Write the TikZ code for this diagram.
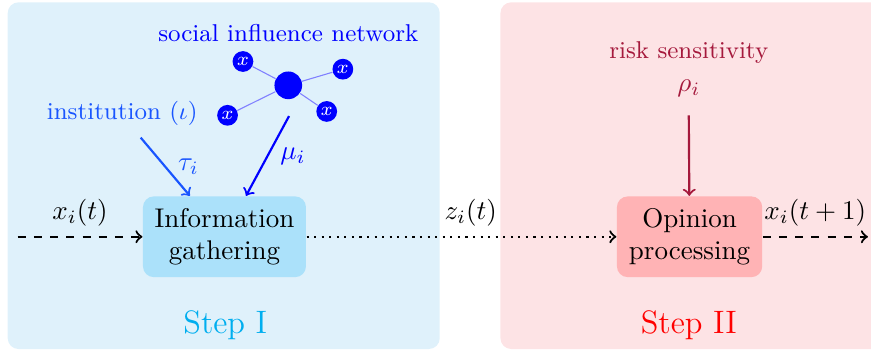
\documentclass[tikz,border=0pt]{standalone}
\usepackage{amsmath}
\usepackage{amssymb}
\usepackage{tikz}

\definecolor{bgone}{RGB}{223,241,251}
\definecolor{bgtwo}{RGB}{253,227,229}
\definecolor{boxone}{RGB}{171,225,250}
\definecolor{boxtwo}{RGB}{255,179,181}
\definecolor{stepone}{RGB}{0,174,239}
\definecolor{instcol}{RGB}{25,85,255}
\definecolor{riskcol}{RGB}{165,25,60}

\tikzset{
  panel/.style={rounded corners=4pt},
  procbox/.style={rounded corners=4pt, align=center, minimum height=1.05cm, inner sep=2pt},
  agent/.style={circle, fill=blue, text=white, inner sep=0pt, minimum size=0.27cm, font=\scriptsize},
  hub/.style={circle, fill=blue, inner sep=0pt, minimum size=0.36cm},
  flow/.style={thick, ->}
}

\begin{document}
\begin{tikzpicture}
\useasboundingbox (0,0) rectangle (11.33,4.62);
% the two steps
\fill [bgone, panel] (0.10,0.08) rectangle (5.72,4.59);
\fill [bgtwo, panel] (6.51,0.08) rectangle (11.60,4.59);
\node [stepone, font=\large] (stepI) at (2.93,0.39) {Step I};
\node [red, font=\large] (stepII) at (8.96,0.39) {Step II};

\node [procbox, fill=boxone, minimum width=2.12cm] (info) at (2.92,1.54) {Information\\gathering};
\node [procbox, fill=boxtwo, minimum width=1.89cm] (opin) at (8.97,1.54) {Opinion\\processing};

% opinion flow
\coordinate (xin) at (0.23,1.54);
\coordinate (xout) at (11.29,1.54);
\draw [flow, dashed] (xin) -- node[midway, above] {$x_i(t)$} (info);
\draw [flow, dotted] (info) -- node[pos=0.53, above] {$z_i(t)$} (opin);
\draw [flow, dashed] (opin) -- node[midway, above] {$x_i(t+1)$} (xout);

% network
\node [blue, font=\small] (netlabel) at (3.75,4.19) {social influence network};
\node [hub] (me) at (3.75,3.51) {};
\node [agent] (nb1) at (3.16,3.82) {$x$};
\node [agent] (nb2) at (4.46,3.72) {$x$};
\node [agent] (nb3) at (2.96,3.12) {$x$};
\node [agent] (nb4) at (4.25,3.17) {$x$};
\foreach \n in {nb1,nb2,nb3,nb4}
  \draw [blue!50] (me) -- (\n);

\node [instcol, font=\small] (inst) at (1.59,3.15) {institution ($\iota$)};
\coordinate (taustart) at (1.83,2.83);
\draw [instcol, thick, ->] (taustart) -- node[midway, right=1pt] {$\tau_i$} ([xshift=-0.45cm]info.north);
\coordinate (mustart) at (3.76,3.11);
\draw [blue, thick, ->] (mustart) -- node[midway, right=1pt] {$\mu_i$} ([xshift=0.28cm]info.north);

% risk
\node [riskcol, font=\small] (risk) at (8.96,3.94) {risk sensitivity};
\node [riskcol] (rho) at (8.96,3.47) {$\rho_i$};
\coordinate (rhostart) at (8.96,3.12);
\draw [riskcol, thick, ->] (rhostart) -- (opin);
\end{tikzpicture}
\end{document}
